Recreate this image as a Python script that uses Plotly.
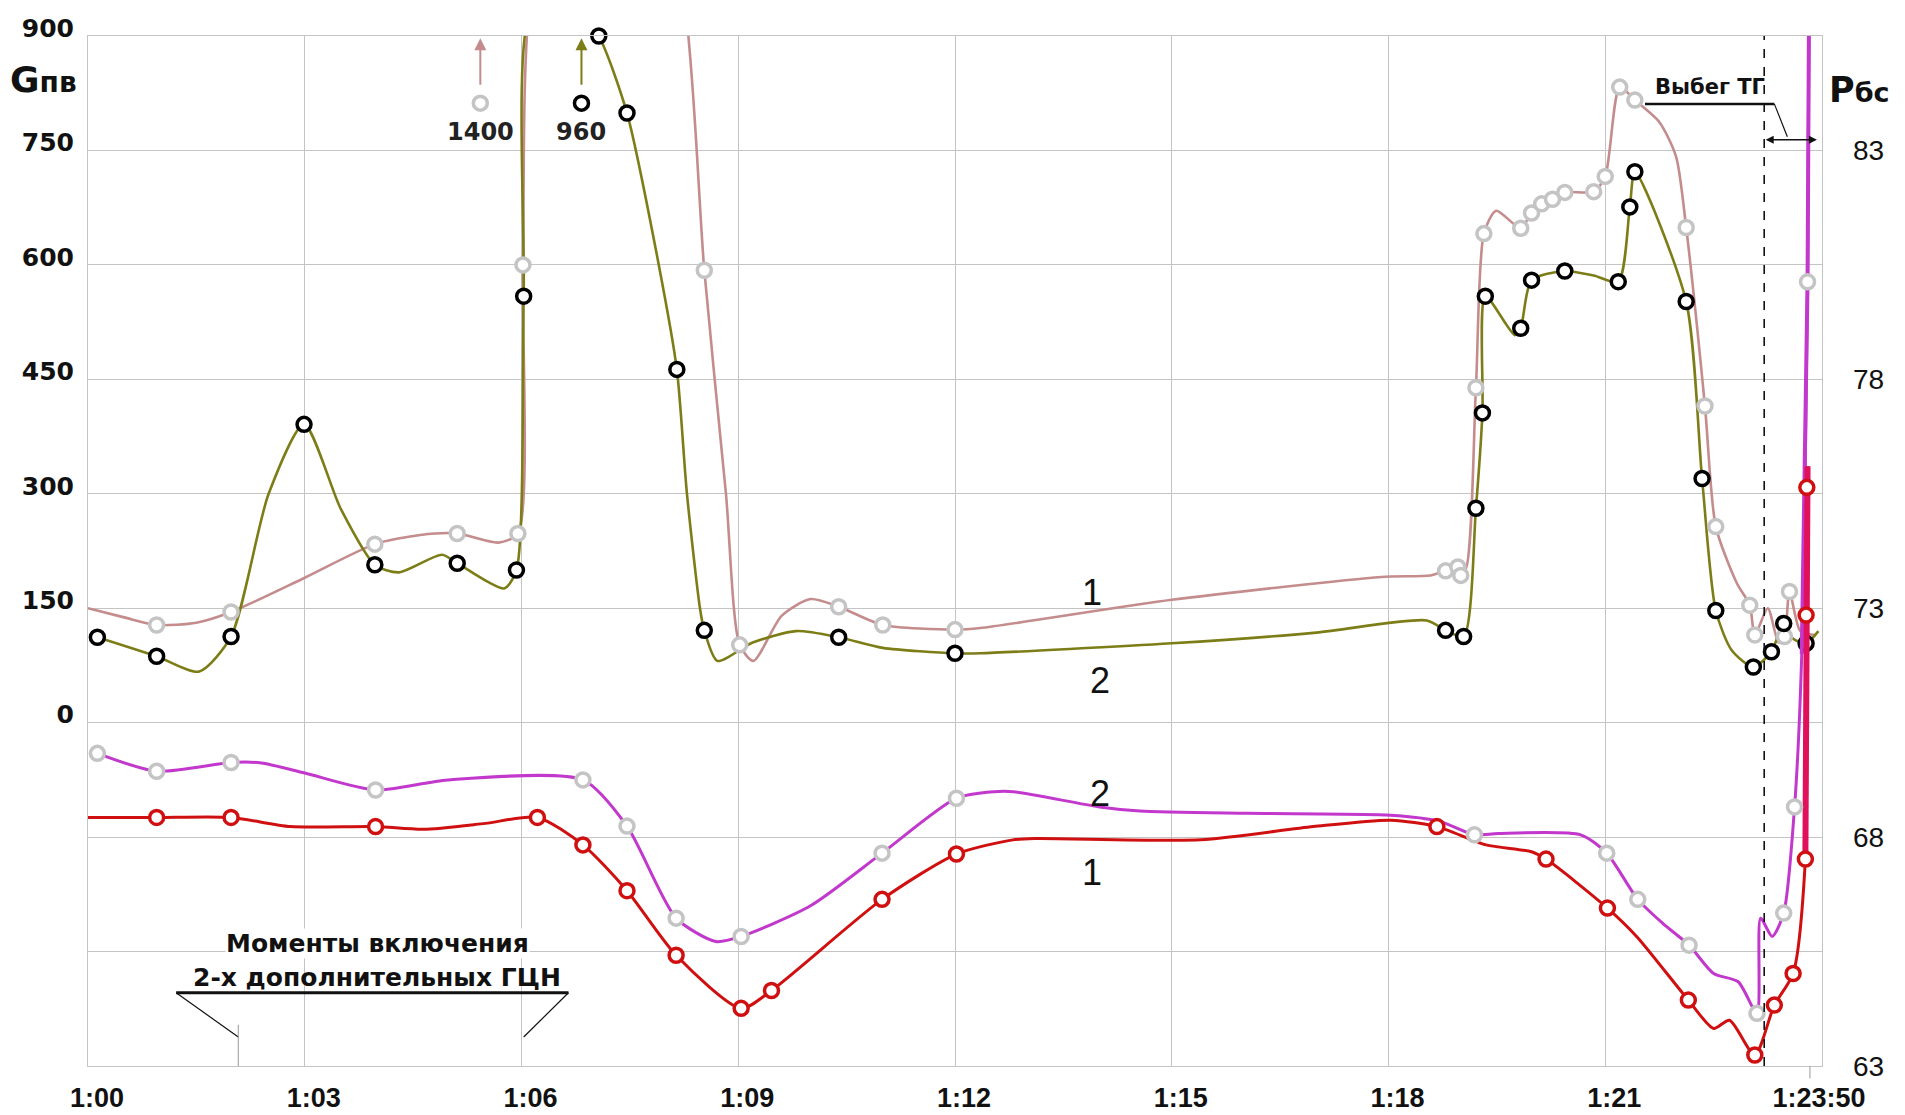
import plotly.graph_objects as go

# ---------------- data (time = minutes after 1:00) ----------------
# G1 : feed-water flow, curve "1" (rosy line, grey markers)
g1_line_t = [0, 0.5, 0.95, 1.5, 1.98, 3.0, 3.97, 4.6, 5.11, 5.68, 5.95, 6.02, 6.12, 7.2, 8.25,
             8.53, 8.83, 9.02, 9.21, 9.6, 10.0, 10.39, 11.0, 12.0, 12.35, 15.0, 17.9, 18.58,
             18.79, 18.96, 19.06, 19.21, 19.32, 19.49, 19.83, 19.98, 20.12, 20.27, 20.44, 20.84,
             21.0, 21.2, 21.41, 21.75, 21.98, 22.12, 22.38, 22.53, 22.82, 23.0, 23.07, 23.25,
             23.4, 23.48, 23.55, 23.7, 23.9]
g1_line_v = [150, 138, 128, 131, 145, 190, 234, 246, 248, 236, 248, 600, 950, 1400, 950,
             593, 300, 102, 81, 140, 162, 152, 128, 122, 124, 161, 191, 193,
             199, 204, 200, 439, 641, 671, 648, 668, 680, 686, 695, 696,
             716, 833, 816, 787, 742, 649, 415, 257, 183, 154, 115, 150,
             105, 113, 172, 120, 115]
g1_mark_t = [0.95, 1.98, 3.97, 5.11, 5.95, 6.02, 8.53, 9.02, 10.39, 11.0, 12.0, 18.79, 18.96,
             19.0, 19.21, 19.32, 19.83, 19.98, 20.12, 20.27, 20.44, 20.84, 21.0, 21.2, 21.41,
             22.12, 22.38, 22.53, 23.0, 23.07, 23.48, 23.55]
g1_mark_v = [128, 145, 234, 248, 248, 600, 593, 102, 152, 128, 122, 199, 204,
             193, 439, 641, 648, 668, 680, 686, 695, 696, 716, 833, 816,
             649, 415, 257, 154, 115, 113, 172]

# G2 : feed-water flow, curve "2" (olive line, black markers)
g2_line_t = [0.13, 0.95, 1.54, 1.98, 2.5, 2.99, 3.5, 3.97, 4.3, 4.9, 5.11, 5.76, 5.93, 6.03,
             6.12, 6.6, 7.07, 7.46, 7.9, 8.15, 8.29, 8.47, 8.53, 8.71, 9.2, 9.8, 10.39, 11.0,
             12.0, 12.35, 15.0, 17.0, 18.53, 18.79, 19.04, 19.21, 19.3, 19.34, 19.75, 19.83,
             19.98, 20.44, 20.84, 21.18, 21.34, 21.41, 22.12, 22.34, 22.53, 22.75, 23.05,
             23.3, 23.47, 23.6, 23.78, 23.95]
g2_line_v = [112, 87, 67, 113, 300, 391, 280, 207, 197, 220, 209, 176, 200, 559,
             930, 960, 900, 799, 600, 463, 300, 150, 121, 81, 105, 120, 112, 98,
             91, 91, 104, 118, 134, 121, 113, 281, 406, 559, 508, 517,
             580, 592, 586, 578, 676, 722, 552, 320, 147, 95, 73,
             93, 130, 110, 104, 120]
g2_mark_t = [0.13, 0.95, 1.98, 2.99, 3.97, 5.11, 5.93, 6.03, 7.07, 7.46, 8.15, 8.53, 10.39,
             12.0, 18.79, 19.04, 19.21, 19.3, 19.34, 19.83, 19.98, 20.44, 21.18, 21.34, 21.41,
             22.12, 22.34, 22.53, 23.05, 23.3, 23.47, 23.78]
g2_mark_v = [112, 87, 113, 391, 207, 209, 200, 559, 900, 799, 463, 121, 112,
             91, 121, 113, 281, 406, 559, 517, 580, 592, 578, 676, 722,
             552, 320, 147, 73, 93, 130, 104]

# P2 : drum-separator pressure, curve "2" (magenta line, grey markers)
p2_line_t = [0.13, 0.95, 1.98, 2.4, 3.0, 3.98, 4.98, 6.85, 7.46, 8.14, 8.69, 9.04, 10.0, 10.99,
             12.02, 12.54, 12.81, 14.0, 14.56, 16.05, 18.03, 18.7, 19.19, 19.52, 20.66, 21.02,
             21.45, 21.8, 22.16, 22.5, 22.84, 23.1, 23.15, 23.31, 23.47, 23.62, 23.72, 23.8, 23.82]
p2_line_v = [69.83, 69.44, 69.63, 69.62, 69.4, 69.03, 69.25, 69.25, 68.24, 66.23, 65.72, 65.83,
             66.5, 67.65, 68.85, 68.99, 68.99, 68.66, 68.57, 68.52, 68.48, 68.35, 68.05, 68.08,
             68.05, 67.65, 66.64, 66.11, 65.64, 65.02, 64.84, 64.15, 66.23, 65.83, 66.34, 68.66,
             72.0, 80.13, 86.0]
p2_mark_t = [0.13, 0.95, 1.98, 3.98, 6.85, 7.46, 8.14, 9.04, 10.99, 12.02, 19.19, 21.02, 21.45,
             22.16, 23.1, 23.47, 23.62, 23.8]
p2_mark_v = [69.83, 69.44, 69.63, 69.03, 69.25, 68.24, 66.23, 65.83, 67.65, 68.85, 68.05, 67.65,
             66.64, 65.64, 64.15, 66.34, 68.66, 80.13]

# P1 : drum-separator pressure, curve "1" (red line, red markers)
p1_line_t = [0, 0.95, 1.98, 2.8, 3.98, 4.64, 5.5, 6.22, 6.85, 7.46, 8.14, 9.04, 9.46, 10.99,
             12.02, 12.8, 13.12, 15.4, 16.96, 18.03, 18.67, 19.35, 19.98, 20.18, 21.03, 21.44,
             22.15, 22.5, 22.72, 23.07, 23.34, 23.6, 23.77, 23.78, 23.79, 23.8]
p1_line_v = [68.43, 68.43, 68.43, 68.23, 68.23, 68.17, 68.3, 68.43, 67.83, 66.83, 65.42, 64.26,
             64.65, 66.64, 67.63, 67.94, 67.97, 67.94, 68.23, 68.37, 68.23, 67.83, 67.68, 67.52,
             66.45, 65.82, 64.44, 63.82, 64.0, 63.24, 64.33, 65.02, 67.52, 72.85, 75.64, 76.1]
p1_mark_t = [0.95, 1.98, 3.98, 6.22, 6.85, 7.46, 8.14, 9.04, 9.46, 10.99, 12.02, 18.67, 20.18,
             21.03, 22.15, 23.07, 23.34, 23.6, 23.77, 23.78, 23.79]
p1_mark_v = [68.43, 68.43, 68.23, 68.43, 67.83, 66.83, 65.42, 64.26, 64.65, 66.64, 67.63, 68.23,
             67.52, 66.45, 64.44, 63.24, 64.33, 65.02, 67.52, 72.85, 75.64]

# off-scale peak values (marker shown at the top, value written below)
peak_t = [5.43, 6.83]
peak_v = [812, 812]
peak_text = ["1400", "960"]

# axes
x_tick_vals = [0, 3, 6, 9, 12, 15, 18, 21, 23.8333]
x_tick_text = ["1:00", "1:03", "1:06", "1:09", "1:12", "1:15", "1:18", "1:21", "1:23:50"]
x_grid_vals = [0, 3, 6, 9, 12, 15, 18, 21, 24]
g_tick_vals = [-450, -300, -150, 0, 150, 300, 450, 600, 750, 900]
g_tick_text = ["", "", "", "0", "150", "300", "450", "600", "750", "900"]
p_tick_vals = [63, 68, 73, 78, 83]
p_tick_text = ["63", "68", "73", "78", "83"]

# event markers
t_coastdown = 23.2          # start of turbine coast-down (dashed line)
t_pump_on = [2.08, 6.03]    # moments the 2 additional pumps were switched on

# ---------------- styling ----------------
PINK = "#c48c8c"
OLIVE = "#7d7d18"
MAGENTA = "#c238cc"
RED = "#d01010"
GREY_MK = "#c4c4c4"
GRID = "#c4c4c4"
FONT = "DejaVu Sans, Liberation Sans, Arial, sans-serif"
FONT_N = "Liberation Sans, Arial, sans-serif"
MK_SIZE = 14

fig = go.Figure()

def line(t, v, color, width, yaxis="y"):
    fig.add_trace(go.Scatter(x=t, y=v, mode="lines", yaxis=yaxis, hoverinfo="skip",
                             line=dict(color=color, width=width, shape="spline", smoothing=0.7)))

def marks(t, v, color, yaxis="y"):
    fig.add_trace(go.Scatter(x=t, y=v, mode="markers", yaxis=yaxis, hoverinfo="skip", cliponaxis=False,
                             marker=dict(symbol="circle", size=MK_SIZE, color="white",
                                         line=dict(color=color, width=3.5))))

line(g1_line_t, g1_line_v, PINK, 2.6)
line(g2_line_t, g2_line_v, OLIVE, 2.6)
line(p2_line_t, p2_line_v, MAGENTA, 3, "y2")
line(p1_line_t, p1_line_v, RED, 3, "y2")
# final steep pressure rise drawn heavier
fig.add_trace(go.Scatter(x=p2_line_t[-3:], y=p2_line_v[-3:], mode="lines", yaxis="y2", hoverinfo="skip",
                         line=dict(color=MAGENTA, width=4)))
fig.add_trace(go.Scatter(x=p1_line_t[-4:], y=p1_line_v[-4:], mode="lines", yaxis="y2", hoverinfo="skip",
                         line=dict(color="#e0105a", width=6)))
marks(g1_mark_t, g1_mark_v, GREY_MK)
marks(g2_mark_t, g2_mark_v, "black")
marks(p2_mark_t, p2_mark_v, GREY_MK, "y2")
marks(p1_mark_t, p1_mark_v, RED, "y2")
# off-scale peak markers
marks(peak_t[:1], peak_v[:1], GREY_MK)
marks(peak_t[1:], peak_v[1:], "black")

ann = []
for t, v, txt, col in zip(peak_t, peak_v, peak_text, [PINK, OLIVE]):
    ann.append(dict(x=t, y=897, xref="x", yref="y", ax=t, ay=v + 22, axref="x", ayref="y",
                    text="", showarrow=True, arrowhead=2, arrowsize=1.2, arrowwidth=2, arrowcolor=col))
    ann.append(dict(x=t, y=v - 38, xref="x", yref="y", text="<b>" + txt + "</b>", showarrow=False,
                    font=dict(family=FONT, size=24, color="#222")))

# curve numbers
LBL = dict(family=FONT_N, size=36, color="#111")
ann += [
    dict(x=13.89, y=170, xref="x", yref="y", text="1", showarrow=False, font=LBL),
    dict(x=14.01, y=55, xref="x", yref="y", text="2", showarrow=False, font=LBL),
    dict(x=14.01, y=68.95, xref="x", yref="y2", text="2", showarrow=False, font=LBL),
    dict(x=13.89, y=67.22, xref="x", yref="y2", text="1", showarrow=False, font=LBL),
]

# axis titles
ann.append(dict(x=-0.046, y=0.958, xref="paper", yref="paper", xanchor="left", yanchor="middle",
                text="<b>G<span style='font-size:28px'>пв</span></b>", showarrow=False,
                font=dict(family=FONT, size=36, color="#111")))
ann.append(dict(x=1.003, y=0.948, xref="paper", yref="paper", xanchor="left", yanchor="middle",
                text="<b>P<span style='font-size:27px'>бс</span></b>", showarrow=False,
                font=dict(family=FONT, size=35, color="#111")))

# coast-down label and double arrow
ann.append(dict(x=22.45, y=833, xref="x", yref="y", text="<b>Выбег ТГ</b>", showarrow=False,
                font=dict(family=FONT, size=21, color="#111")))
ann.append(dict(x=23.93, y=764, ax=t_coastdown, ay=764, xref="x", yref="y", axref="x", ayref="y",
                text="", showarrow=True, arrowhead=2, startarrowhead=2, arrowside="end+start",
                arrowsize=1, arrowwidth=1.6, arrowcolor="#111"))

# pump switch-on label
ann.append(dict(x=4.0, y=-289, xref="x", yref="y", text="<b>Моменты включения</b>", showarrow=False,
                bgcolor="white", borderpad=0, font=dict(family=FONT, size=25, color="#111")))
ann.append(dict(x=4.0, y=-334, xref="x", yref="y", text="<b>2-х дополнительных ГЦН</b>", showarrow=False,
                font=dict(family=FONT, size=25, color="#111")))

shapes = [
    dict(type="line", xref="x", yref="paper", x0=t_coastdown, x1=t_coastdown, y0=0, y1=1,
         line=dict(color="#111", width=1.6, dash="dash")),
    dict(type="line", xref="x", yref="y", x0=21.55, x1=23.34, y0=811, y1=811, line=dict(color="#111", width=2.5)),
    dict(type="line", xref="x", yref="y", x0=23.34, x1=23.52, y0=811, y1=768, line=dict(color="#111", width=1.2)),
    dict(type="line", xref="x", yref="y", x0=1.22, x1=6.65, y0=-354, y1=-354, line=dict(color="#111", width=3)),
    dict(type="line", xref="x", yref="y", x0=1.22, x1=t_pump_on[0], y0=-354, y1=-412, line=dict(color="#111", width=1.2)),
    dict(type="line", xref="x", yref="y", x0=6.65, x1=t_pump_on[1], y0=-354, y1=-412, line=dict(color="#111", width=1.2)),
    dict(type="line", xref="x", yref="y", x0=t_pump_on[0], x1=t_pump_on[0], y0=-396, y1=-450, line=dict(color="#999", width=1)),
    dict(type="line", xref="x", yref="paper", x0=x_tick_vals[-1], x1=x_tick_vals[-1], y0=-0.012, y1=0,
         line=dict(color="#999", width=1)),
]

fig.update_layout(
    width=1905, height=1115,
    margin=dict(l=88, r=83, t=36, b=49),
    paper_bgcolor="white", plot_bgcolor="white",
    showlegend=False,
    annotations=ann, shapes=shapes,
    xaxis=dict(range=[0, 24], tickvals=x_tick_vals, ticktext=x_tick_text, showgrid=False, automargin=False,
               zeroline=False, showline=True, mirror=True, linecolor=GRID, linewidth=1,
               ticks="", ticklabelstandoff=8, ticklabelshift=9,
               tickfont=dict(family=FONT_N, size=27, color="#111", weight="bold"),
               minor=dict(tickmode="array", tickvals=x_grid_vals, showgrid=True, gridcolor=GRID, gridwidth=1, ticks="")),
    yaxis=dict(range=[-450, 900], tickvals=g_tick_vals, ticktext=g_tick_text, showgrid=True, automargin=False,
               gridcolor=GRID, gridwidth=1, zeroline=False, showline=True, mirror=True,
               linecolor=GRID, ticks="", ticklabelstandoff=8, ticklabelshift=-8,
               tickfont=dict(family=FONT, size=25, color="#111", weight="bold")),
    yaxis2=dict(range=[63, 85.5], overlaying="y", side="right", tickvals=p_tick_vals, ticktext=p_tick_text,
                showgrid=False, zeroline=False, showline=False, ticks="", ticklabelstandoff=30, automargin=False,
                tickfont=dict(family=FONT_N, size=28, color="#111")),
)

fig.write_html("out.html", config={"displayModeBar": False},
               post_script="document.body.style.margin='0';document.body.style.overflow='hidden';")
